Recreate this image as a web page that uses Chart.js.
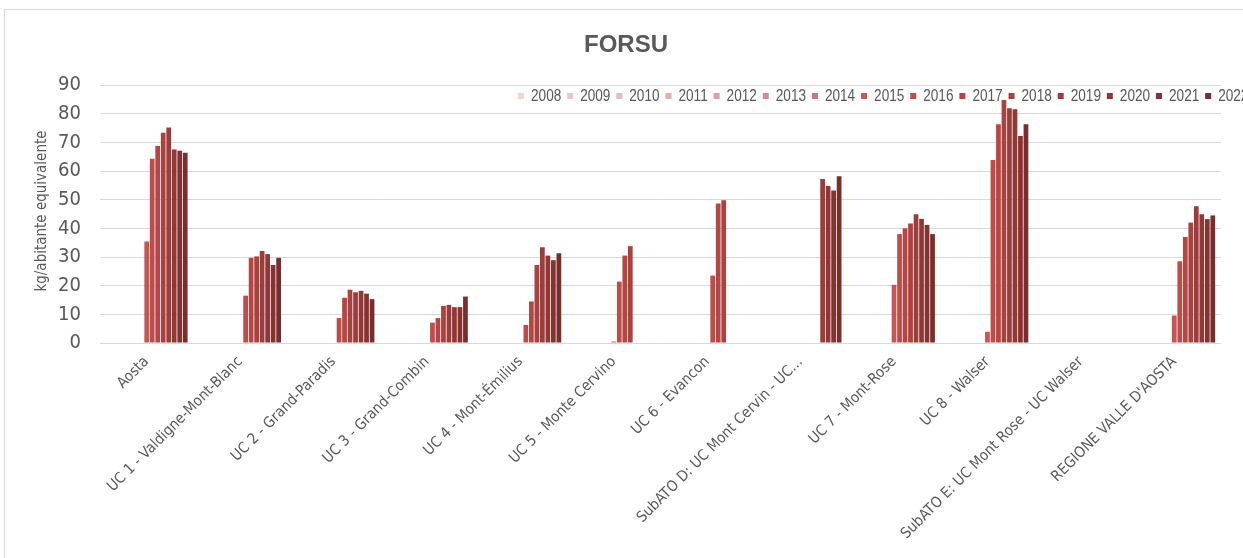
<!DOCTYPE html>
<html>
<head>
<meta charset="utf-8">
<script src="https://cdn.jsdelivr.net/npm/chart.js@4/dist/chart.umd.min.js"></script>
<style>
  html, body { margin: 0; padding: 0; background: #fff; overflow: hidden; }
  #frame { position: absolute; left: 4px; top: 9px; width: 1400px; height: 700px; border: 1px solid #d9d9d9; }
  canvas { position: absolute; left: 0; top: 0; }
</style>
</head>
<body>
<div id="frame"></div>
<canvas id="chart" width="1243" height="558"></canvas>
<script>
const NARROW = "'Liberation Sans Narrow', 'Arial Narrow', 'DejaVu Sans Condensed', sans-serif";

const categories = [
  "Aosta",
  "UC 1 - Valdigne-Mont-Blanc",
  "UC 2 - Grand-Paradis",
  "UC 3 - Grand-Combin",
  "UC 4 - Mont-Émilius",
  "UC 5 - Monte Cervino",
  "UC 6 - Evancon",
  "SubATO D: UC Mont Cervin - UC…",
  "UC 7 - Mont-Rose",
  "UC 8 - Walser",
  "SubATO E: UC Mont Rose - UC Walser",
  "REGIONE VALLE D'AOSTA"
];

const years = ["2008", "2009", "2010", "2011", "2012", "2013", "2014", "2015",
               "2016", "2017", "2018", "2019", "2020", "2021", "2022"];

const v2008 = [null, null, null, null, null, null, null, null, null, null, null, null];
const v2009 = [null, null, null, null, null, null, null, null, null, null, null, null];
const v2010 = [null, null, null, null, null, null, null, null, null, null, null, null];
const v2011 = [null, null, null, null, null, null, null, null, null, null, null, null];
const v2012 = [null, null, null, null, null, null, null, null, null, null, null, null];
const v2013 = [null, null, null, null, null, null, null, null, null, null, null, null];
const v2014 = [null, null, null, null, null, null, null, null, null, null, null, null];
const v2015 = [35.4, null, null, null, null, 0.5, null, null, 20.3, 3.9, null, 9.6];
const v2016 = [64.3, 16.5, 8.7, 7.1, 6.3, 21.4, 23.5, null, 38.0, 63.8, null, 28.5];
const v2017 = [68.7, 29.7, 15.8, 8.7, 14.5, 30.5, 48.7, null, 40.0, 76.3, null, 37.0];
const v2018 = [73.3, 30.2, 18.6, 12.9, 27.2, 33.8, 49.8, null, 41.7, 84.8, null, 42.0];
const v2019 = [75.2, 32.1, 17.7, 13.3, 33.4, null, null, 57.2, 44.9, 81.9, null, 47.7];
const v2020 = [67.5, 31.0, 18.2, 12.5, 30.5, null, null, 54.8, 43.3, 81.5, null, 44.9];
const v2021 = [67.1, 27.2, 17.2, 12.5, 28.9, null, null, 53.2, 41.2, 72.2, null, 43.2];
const v2022 = [66.4, 29.7, 15.3, 16.2, 31.3, null, null, 58.2, 38.0, 76.3, null, 44.5];

const seriesValues = [v2008, v2009, v2010, v2011, v2012, v2013, v2014, v2015,
                      v2016, v2017, v2018, v2019, v2020, v2021, v2022];

const colors = ["#f2d4d4", "#edc8c8", "#e8bcbc", "#e2adad", "#dc9e9e", "#d58b8a", "#ce7472", "#c65553",
                "#c04c4a", "#b64644", "#aa4240", "#9d3d3b", "#913736", "#853231", "#792d2d"];

// title, axis title and the in-plot legend, drawn like the Excel original
const decorations = {
  id: "decorations",
  afterDraw(chart) {
    const ctx = chart.ctx;
    ctx.save();
    ctx.fillStyle = "#595959";
    ctx.font = "bold 24px 'Liberation Sans', Arial, sans-serif";
    ctx.textAlign = "center";
    ctx.textBaseline = "middle";
    ctx.fillText("FORSU", 626, 45);

    ctx.save();
    ctx.translate(42, 211);
    ctx.rotate(-Math.PI / 2);
    ctx.font = "15px " + NARROW;
    ctx.fillText("kg/abitante equivalente", 0, 0);
    ctx.restore();

    // legend: Arial-Narrow look by squeezing Liberation Sans horizontally
    const squeeze = 0.8;
    ctx.font = "17px 'Liberation Sans', Arial, sans-serif";
    ctx.textAlign = "left";
    let x = 518;
    const y = 96;
    chart.data.datasets.forEach((ds) => {
      ctx.fillStyle = ds.backgroundColor;
      ctx.fillRect(x, y - 3, 6, 6);
      ctx.fillStyle = "#595959";
      const w = ctx.measureText(ds.label).width * squeeze;
      ctx.save();
      ctx.translate(x + 13, y);
      ctx.scale(squeeze, 1);
      ctx.fillText(ds.label, 0, 0);
      ctx.restore();
      x += 13 + w + 5.9;
    });
    ctx.restore();
  }
};

const datasets = years.map((year, i) => ({
  label: year,
  data: seriesValues[i],
  backgroundColor: colors[i],
  borderWidth: 0,
  barPercentage: 0.86,
  categoryPercentage: 0.883
}));

new Chart(document.getElementById("chart").getContext("2d"), {
  type: "bar",
  data: { labels: categories, datasets: datasets },
  options: {
    responsive: false,
    animation: false,
    devicePixelRatio: 1,
    layout: { padding: { left: 0, right: 22, top: 85, bottom: 0 } },
    plugins: {
      legend: { display: false },
      title: { display: false },
      tooltip: { enabled: false }
    },
    scales: {
      x: {
        grid: { display: false },
        border: { display: false },
        ticks: {
          autoSkip: false,
          maxRotation: 45,
          minRotation: 45,
          color: "#595959",
          font: { family: NARROW, size: 15 },
          padding: 2
        },
        afterFit(scale) { scale.height = 215; }
      },
      y: {
        min: 0,
        max: 90,
        ticks: {
          stepSize: 10,
          color: "#595959",
          font: { family: NARROW, size: 20 },
          padding: 19
        },
        grid: { color: "#d9d9d9", drawTicks: false },
        border: { display: false },
        afterFit(scale) { scale.width = 100; }
      }
    }
  },
  plugins: [decorations]
});
</script>
</body>
</html>
